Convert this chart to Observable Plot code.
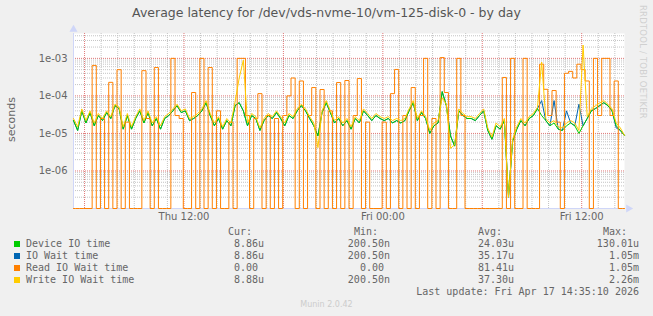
<!DOCTYPE html>
<html><head><meta charset="utf-8">
<script src="https://cdn.jsdelivr.net/npm/d3@7"></script>
<script src="https://cdn.jsdelivr.net/npm/@observablehq/plot@0.6"></script>
<style>
body{margin:0;background:#f0f0f0;}
#wrap{position:relative;width:653px;height:316px;overflow:hidden;background:#f0f0f0;font-family:"DejaVu Sans",sans-serif;color:#666;}
#wrap svg{position:absolute;left:0;top:0;}
.abs{position:absolute;white-space:pre;}
.mono{font-family:"DejaVu Sans Mono",monospace;font-size:10px;line-height:12px;color:#666;}
</style></head><body><div id="wrap"></div>
<script>
// ---- data (values in microseconds, 15-minute samples) ----
const startTime = Date.UTC(2026, 3, 16, 5, 20);
const stepMinutes = 15;
const seriesNames = ["Device IO time", "IO Wait time", "Read IO Wait time", "Write IO Wait time"];
const seriesColors = ["#00cc00", "#0066b3", "#ff8000", "#ffcc00"];
const device = [22,12,40,19,36,16,30,22,36,25, 55,46,13,30,13,25,40,19,36,16,
  25,13,25,30,40,55,36,40,22,25, 30,40,66,30,16,25,13,22,16,55,
  66,40,16,30,25,12,22,30,25,36, 25,16,30,25,40,55,40,25,16,8.6,
  36,66,36,19,25,16,22,13,25,19, 40,30,22,30,25,22,25,19,22,19,
  22,40,66,22,36,25,10,16,19,130, 55,8.6,4.6,40,30,25,25,22,30,40,
  12,7,16,13,22,0.2,6.3,13,22,16, 25,30,46,30,22,16,19,13,12,16,
  19,16,10,16,25,40,46,55,66,55, 40,16,12,8.86];
const ioWait = [22,12,40,19,36,16,30,22,36,25, 55,46,13,30,13,25,40,19,36,16,
  25,13,25,30,40,55,36,40,22,25, 30,40,66,30,16,25,13,22,16,55,
  66,40,16,30,25,12,22,30,25,36, 25,16,30,25,40,55,40,25,16,8.6,
  36,66,36,19,25,16,22,13,25,19, 40,30,22,30,25,22,25,19,22,19,
  22,40,66,22,36,25,10,16,19,130, 55,8.6,4.6,40,30,25,25,22,30,40,
  12,7,16,13,22,0.2,6.3,13,22,16, 25,30,46,75,22,16,75,13,12,40,
  19,16,60,16,25,40,46,55,66,55, 40,14,12,8.86];
const readWait = [0,0,0,0,0,650,0,25,0,230, 0,500,0,20,0,0,0,470,25,0,
  570,0,0,0,1000,30,25,0,0,123, 0,1000,0,570,0,40,0,0,20,0,
  1000,1000,30,0,25,115,0,30,0,25, 0,30,100,300,0,250,0,30,167,0,
  148,0,40,0,227,0,257,0,30,290, 0,20,0,0,0,20,0,115,507,0,
  30,0,167,0,30,1000,0,25,0,1050, 123,0,0,1000,30,0,0,0,0,0,
  0,0,0,0,310,0,1000,0,0,1000, 0,0,0,700,150,30,139,20,0,400,
  450,300,700,500,250,0,1000,30,1000,1000, 30,250,0,0];
const writeWait = [25,15,45,22,40,19,34,25,40,28, 60,50,15,34,15,28,45,22,40,19,
  28,16,28,34,45,60,40,45,25,28, 34,45,75,34,19,28,15,25,19,70,
  300,900,19,34,28,14,25,34,28,40, 28,19,34,28,45,60,45,28,19,4.2,
  40,75,40,22,28,19,25,15,28,22, 45,34,25,34,28,25,28,22,25,22,
  25,45,75,25,40,28,12,19,22,90, 60,4,5,45,34,28,28,25,34,45,
  14,8,19,15,25,0.2,7,15,25,19, 28,34,50,800,25,19,22,15,14,19,
  22,19,12,2260,28,45,55,65,75,60, 45,19,14,8.88];
const curLabels = ["8.86u", "8.86u", "0.00 ", "8.88u"];
const minLabels = ["200.50n", "200.50n", "0.00 ", "200.50n"];
const avgLabels = ["24.03u", "35.17u", "81.41u", "37.30u"];
const maxLabels = ["130.01u", "1.05m", "1.05m", "2.26m"];
const yTickValues = [1e-3, 1e-4, 1e-5, 1e-6];
const yTickLabels = ["1e-03", "1e-04", "1e-05", "1e-06"];
const xTickTimes = ["2026-04-16T12:00Z", "2026-04-17T00:00Z", "2026-04-17T12:00Z"].map(s => new Date(s));
const xTickLabels = ["Thu 12:00", "Fri 00:00", "Fri 12:00"];
const titleText = "Average latency for /dev/vds-nvme-10/vm-125-disk-0 - by day";
const yLabel = "seconds";
const lastUpdate = "Last update: Fri Apr 17 14:35:10 2026";

// ---- build table ----
const yMin = 1e-7, yMax = 4.6e-3;
const times = device.map((_, i) => new Date(startTime + i * stepMinutes * 60000));
const allSeries = [device, ioWait, readWait, writeWait];
const rows = [];
allSeries.forEach((arr, s) => arr.forEach((v, i) => rows.push({t: times[i], v: Math.max(v * 1e-6, yMin), s})));
const x0 = times[0], x1 = times[times.length - 1];

const logTicks = d3.scaleLog().domain([yMin, yMax]).ticks();
const isDecade = v => Math.abs(Math.log10(v) - Math.round(Math.log10(v))) < 1e-9;
const minorY = logTicks.filter(v => !isDecade(v));
const majorY = logTicks.filter(v => isDecade(v) && v > yMin);
const hours = d3.utcHour.range(x0, x1);
const minorX = hours.filter(d => d.getUTCHours() % 6 !== 0);
const majorX = hours.filter(d => d.getUTCHours() % 6 === 0);
const axisColor = "#CFD6F8";

const lineMark = (s, curve) => Plot.line(rows.filter(r => r.s === s), {x: "t", y: "v", stroke: seriesColors[s], strokeWidth: 1, curve});

const chart = Plot.plot({
  width: 653, height: 228,
  marginLeft: 73, marginRight: 29, marginTop: 33, marginBottom: 20,
  x: {type: "utc", domain: [x0, x1]},
  y: {type: "log", domain: [yMin, yMax]},
  style: {fontFamily: "DejaVu Sans", fontSize: "10px", color: "#666", background: "transparent", overflow: "visible"},
  marks: [
    Plot.frame({fill: "white", stroke: null}),
    Plot.ruleY(minorY, {stroke: "#c4c4c4", strokeDasharray: "1,1"}),
    Plot.ruleX(minorX, {stroke: "#c4c4c4", strokeDasharray: "1,1"}),
    Plot.ruleY(majorY, {stroke: "#e07878", strokeDasharray: "1,1"}),
    Plot.ruleX(majorX, {stroke: "#e07878", strokeDasharray: "1,1"}),
    Plot.ruleX([x0], {stroke: axisColor, y1: yMin, y2: yMax}),
    Plot.ruleY([yMin], {stroke: axisColor, x1: x0, x2: x1}),
    lineMark(1, "linear"),
    lineMark(0, "linear"),
    lineMark(2, "step"),
    lineMark(3, "linear"),
    Plot.dot([{t: x0, v: yMax}], {x: "t", y: "v", symbol: "triangle", fill: axisColor, r: 3, dy: -4}),
    Plot.dot([{t: x1, v: yMin}], {x: "t", y: "v", symbol: "triangle", rotate: 90, fill: axisColor, r: 3, dx: 4}),
    Plot.axisY({ticks: yTickValues, tickFormat: d => yTickLabels[yTickValues.indexOf(d)], tickSize: 0, tickPadding: 6, label: null, fill: "#666"}),
    Plot.axisX({ticks: xTickTimes, tickFormat: d => xTickLabels[xTickTimes.findIndex(t => +t === +d)], tickSize: 0, tickPadding: 4, label: null, fill: "#666"})
  ]
});
const wrap = document.getElementById("wrap");
wrap.appendChild(chart);

function addDiv(text, css, cls = "abs") {
  const d = document.createElement("div");
  d.className = cls;
  d.textContent = text;
  d.style.cssText = css;
  wrap.appendChild(d);
  return d;
}
addDiv(titleText, "left:0;width:653px;top:5px;text-align:center;font-size:12.5px;color:#555;");
addDiv(yLabel, "left:-19px;top:113px;width:60px;text-align:center;font-size:11px;color:#666;transform:rotate(-90deg);");
addDiv("RRDTOOL / TOBI OETIKER", "left:638px;top:5px;writing-mode:vertical-rl;font-size:8.5px;color:#d0d0d0;letter-spacing:0.2px;");
addDiv("Munin 2.0.42", "left:0;width:653px;top:300px;text-align:center;font-size:8px;color:#cccccc;");

// legend
const colRights = [264, 390, 514, 639];
const headers = ["Cur:", "Min:", "Avg:", "Max:"];
headers.forEach((h, c) => addDiv(h + "  ", `right:${653 - colRights[c]}px;top:226px;text-align:right;`, "abs mono"));
const cols = [curLabels, minLabels, avgLabels, maxLabels];
seriesNames.forEach((name, s) => {
  const top = 238 + s * 12;
  const sq = document.createElement("div");
  sq.style.cssText = `position:absolute;left:14px;top:${top + 3}px;width:6px;height:6px;background:${seriesColors[s]};`;
  wrap.appendChild(sq);
  addDiv(name, `left:26px;top:${top}px;`, "abs mono");
  cols.forEach((col, c) => addDiv(col[s], `right:${653 - colRights[c]}px;top:${top}px;text-align:right;`, "abs mono"));
});
addDiv(lastUpdate, `right:${653 - 639}px;top:286px;text-align:right;`, "abs mono");
</script></body></html>
